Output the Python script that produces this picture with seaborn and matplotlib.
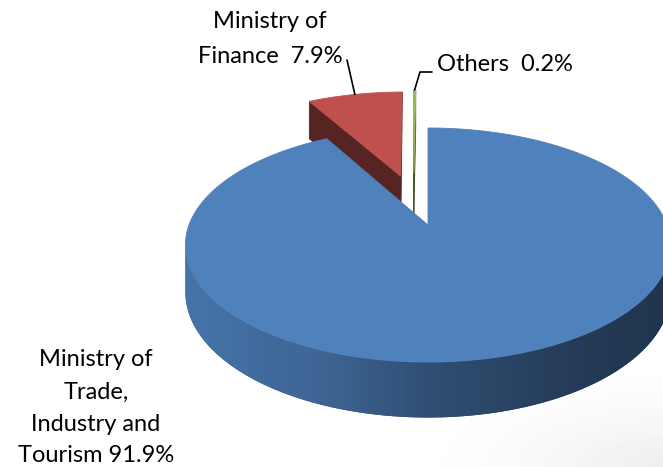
import numpy as np
import matplotlib
matplotlib.use("Agg")
import matplotlib.pyplot as plt
from matplotlib.patches import Polygon
from matplotlib.colors import LinearSegmentedColormap, to_rgb
import seaborn as sns

# Data
ministries = ["Ministry of Trade, Industry and Tourism", "Ministry of Finance", "Others"]
shares = [91.9, 7.9, 0.2]
share_labels = ["91.9%", "7.9%", "0.2%"]

sns.set_theme(style="white")
plt.rcParams["font.family"] = ["Lato", "DejaVu Sans"]

colors = sns.color_palette(["#4F81BD", "#C0504D", "#9BBB59"])

# Perspective projection of a unit disc (X right, Y away from viewer, z up)
CX, CY = 428.0, 225.0
A, B, K, C = 239.0, 113.6, 0.171, 46.0


def proj(X, Y, z):
    w = 1.0 + K * Y
    return CX + A * X / w, CY - (B * Y + C * z) / w


# Slice displacement (in disc units) for the pulled-out slices
offsets = [(0.0, 0.0), (-0.123, 0.464), (-0.064, 0.494)]

W, H = 663, 467
fig = plt.figure(figsize=(W / 100, H / 100), dpi=100)
ax = fig.add_axes([0, 0, 1, 1])
ax.set_xlim(0, W)
ax.set_ylim(H, 0)
ax.axis("off")

# faint floor haze in the lower right corner
yy, xx = np.mgrid[0:H, 0:W]
dist = np.hypot((xx - W) / 260.0, (yy - H) / 110.0)
haze = np.clip(1 - dist, 0, 1) ** 1.5 * 0.07
ax.imshow(1 - haze, cmap="gray", vmin=0, vmax=1, extent=(0, W, H, 0),
          interpolation="bilinear", zorder=0)

frac = np.array(shares) / np.sum(shares)
edges = np.concatenate([[0.0], np.cumsum(frac) * 360.0])


def rim(t, ox, oy, z):
    r = np.radians(t)
    return proj(ox + np.sin(r), oy + np.cos(r), z)


def signed_area(pts):
    p = np.asarray(pts)
    x, y = p[:, 0], p[:, 1]
    return 0.5 * np.sum(x * np.roll(y, -1) - np.roll(x, -1) * y)


ref_sign = np.sign(signed_area([rim(179, 0, 0, 0), rim(181, 0, 0, 0),
                                rim(181, 0, 0, -1), rim(179, 0, 0, -1)]))


def facing(pts):
    s = signed_area(pts)
    return np.sign(s) == ref_sign and abs(s) > 1e-6


def shade(col, f):
    return tuple(np.clip(np.array(col) * f, 0, 1))


def wall_cmap(col):
    # side wall lighting: lighter on the left, darker towards the right
    stops = [0.0, 0.3, 0.5, 0.7, 0.85, 1.0]
    facs = [0.90, 0.78, 0.62, 0.52, 0.45, 0.41]
    return LinearSegmentedColormap.from_list(
        "wall", [(s, shade(col, f)) for s, f in zip(stops, facs)])


grad = np.linspace(0, 1, 512).reshape(1, -1)
z = [1]


def nz():
    z[0] += 1
    return z[0]


def draw_slice(i):
    t0, t1 = edges[i], edges[i + 1]
    ox, oy = offsets[i]
    col = colors[i]
    n = max(int((t1 - t0) / 0.5), 2)
    ts = np.linspace(t0, t1, n + 1)
    # outer wall: contiguous runs of viewer-facing segments
    vis = [facing([rim(a, ox, oy, 0), rim(b, ox, oy, 0), rim(b, ox, oy, -1), rim(a, ox, oy, -1)])
           for a, b in zip(ts[:-1], ts[1:])]
    runs, cur = [], []
    for k, v in enumerate(vis):
        if v:
            cur.append(k)
        elif cur:
            runs.append(cur)
            cur = []
    if cur:
        runs.append(cur)
    for run in runs:
        tr = ts[run[0]: run[-1] + 2]
        poly = [rim(t, ox, oy, 0) for t in tr] + [rim(t, ox, oy, -1) for t in tr[::-1]]
        zo = nz()
        patch = Polygon(poly, closed=True, facecolor=shade(col, 0.6),
                        edgecolor="none", zorder=zo)
        ax.add_patch(patch)
        im = ax.imshow(grad, cmap=wall_cmap(col), aspect="auto", extent=(180, W, H, 0),
                       interpolation="bilinear", zorder=zo)
        im.set_clip_path(patch)
    # radial cut faces
    o_top, o_bot = proj(ox, oy, 0), proj(ox, oy, -1)
    start = [o_top, rim(t0, ox, oy, 0), rim(t0, ox, oy, -1), o_bot]
    end = [o_top, o_bot, rim(t1, ox, oy, -1), rim(t1, ox, oy, 0)]
    for face in (start, end):
        if facing(face):
            ax.add_patch(Polygon(face, closed=True, facecolor=shade(col, 0.45),
                                 edgecolor=shade(col, 0.45), lw=0.5, zorder=nz()))
    # top face
    top = [o_top] + [rim(t, ox, oy, 0) for t in ts]
    ax.add_patch(Polygon(top, closed=True, facecolor=col, edgecolor=col, lw=0.6, zorder=nz()))


# back slices first, the large front slice last
for i in [1, 2, 0]:
    draw_slice(i)

fs = 17
tz = 100
# Ministry of Finance label with leader line
mid_fin = (edges[1] + edges[2]) / 2
ex, ey = rim(mid_fin, *offsets[1], 0)
ax.plot([347, ex], [60, ey], color="black", lw=1.2, zorder=tz)
ax.text(270, 28, "Ministry of", ha="center", va="baseline", fontsize=fs, color="black", zorder=tz)
ax.text(270, 63, "Finance  " + share_labels[1], ha="center", va="baseline", fontsize=fs,
        color="black", zorder=tz)

# Others label with leader line
mid_oth = (edges[2] + edges[3]) / 2
px, py = rim(mid_oth, *offsets[2], 0)
ax.plot([432, 420, px], [72, 72, py], color="black", lw=1.2, zorder=tz)
ax.text(437, 71, "Others  " + share_labels[2], ha="left", va="baseline", fontsize=fs,
        color="black", zorder=tz)

# Trade, Industry and Tourism label
for y, line in zip([366, 399, 431, 462],
                   ["Ministry of", "Trade,", "Industry and", "Tourism " + share_labels[0]]):
    ax.text(96, y, line, ha="center", va="baseline", fontsize=fs, color="black", zorder=tz)

fig.savefig("out.png", dpi=100)
